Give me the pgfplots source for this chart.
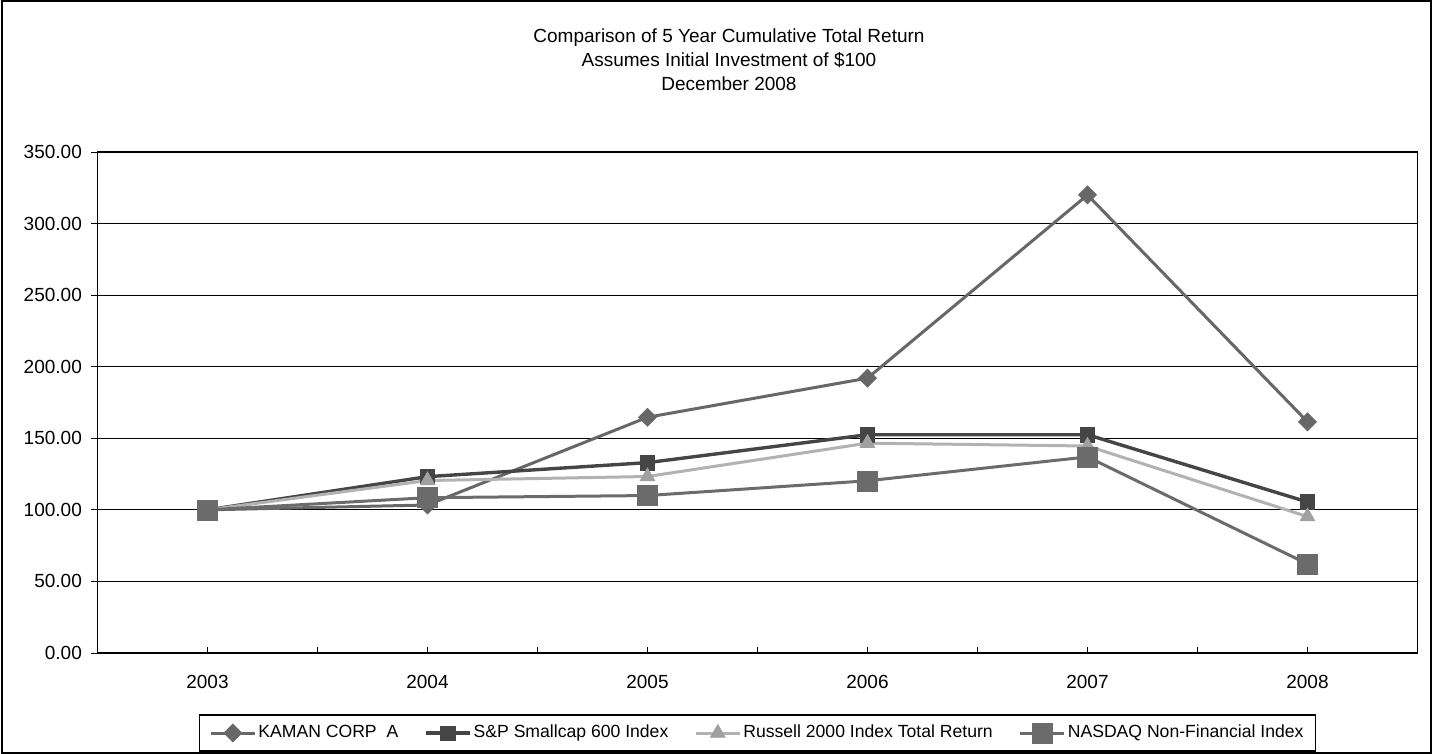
\documentclass[border=0pt]{standalone}
\usepackage{fontspec}
\setmainfont{Liberation Sans}
\usepackage{pgfplots}
\pgfplotsset{compat=1.18}

\definecolor{kaman}{HTML}{676767}
\definecolor{spsc}{HTML}{454545}
\definecolor{russ}{HTML}{B2B2B2}
\definecolor{russmark}{HTML}{A0A0A0}
\definecolor{nasdaq}{HTML}{6B6B6B}

\begin{document}
\begin{tikzpicture}
% page = 1432 x 754 px at 0.5bp per px
\path[use as bounding box] (0,0) rectangle (716bp,377bp);
\draw[line width=1bp] (0.75bp,0.75bp) rectangle (715.25bp,376.25bp);

\node[anchor=base,font=\fontsize{9.5bp}{11.5bp}\selectfont] at (364.5bp,355.5bp) {Comparison of 5 Year Cumulative Total Return};
\node[anchor=base,font=\fontsize{9.5bp}{11.5bp}\selectfont] at (364.5bp,343.5bp) {Assumes Initial Investment of \$100};
\node[anchor=base,font=\fontsize{9.5bp}{11.5bp}\selectfont] at (364.5bp,331.5bp) {December 2008};

\begin{axis}[
    at={(48.75bp,50.5bp)}, anchor=south west,
    scale only axis,
    width=660bp, height=250.5bp,
    font=\fontsize{9.5bp}{11.5bp}\selectfont,
    xmin=-0.5, xmax=5.5,
    ymin=0, ymax=350,
    xtick={0,1,2,3,4,5},
    xticklabels={2003,2004,2005,2006,2007,2008},
    minor xtick={0.5,1.5,2.5,3.5,4.5},
    ytick={0,50,...,350},
    tick align=inside,
    major tick length=3bp, minor tick length=3bp,
    xtick pos=bottom, ytick pos=left,
    ytick style={xshift=-3bp, black, line width=0.5bp},
    xtick style={black, line width=0.5bp},
    minor tick style={black, line width=0.5bp},
    ymajorgrids,
    major grid style={black, line width=0.5bp},
    axis line style={black, line width=0.7bp},
    yticklabel style={xshift=-4.3bp},
    xticklabel style={yshift=-7.8bp},
    /pgf/number format/.cd, fixed, fixed zerofill, precision=2, assume math mode=true,
    /pgfplots/.cd,
    legend columns=4,
    legend style={at={(0.5,-0.1597)}, anchor=center, draw=black, line width=0.6bp,
        inner xsep=5bp, inner ysep=4bp,
        font=\fontsize{8.8bp}{10.5bp}\selectfont,
        nodes={inner sep=1bp},
        /tikz/every even column/.append style={column sep=12bp}},
    legend cell align=left,
    legend image code/.code={\draw[mark repeat=2,mark phase=2,#1] plot coordinates {(0bp,0bp) (11bp,0bp) (22bp,0bp)};},
]
\addplot[kaman, line width=1.5bp, mark=square*, mark size=3.2bp,
    mark options={rotate=45, fill=kaman, draw=kaman, line width=0.3bp}]
    coordinates {(0,100) (1,103.4) (2,164.7) (3,192) (4,320) (5,161.5)};
\addplot[spsc, line width=1.7bp, mark=square*, mark size=3.6bp,
    mark options={fill=spsc, draw=spsc, line width=0.3bp}]
    coordinates {(0,100) (1,123.2) (2,133) (3,152.5) (4,152.5) (5,105.5)};
\addplot[russ, line width=1.5bp, mark=triangle*, mark size=4.3bp,
    mark options={fill=russmark, draw=russmark, line width=0.3bp}]
    coordinates {(0,100) (1,120.5) (2,123.3) (3,146.6) (4,144.6) (5,95.3)};
\addplot[nasdaq, line width=1.5bp, mark=square*, mark size=5bp,
    mark options={fill=nasdaq, draw=nasdaq, line width=0.3bp}]
    coordinates {(0,100) (1,108.5) (2,110) (3,120.3) (4,137) (5,62.2)};
\legend{KAMAN CORP\ \ A, S\&P Smallcap 600 Index, Russell 2000 Index Total Return, NASDAQ Non-Financial Index}
\end{axis}
\end{tikzpicture}
\end{document}
